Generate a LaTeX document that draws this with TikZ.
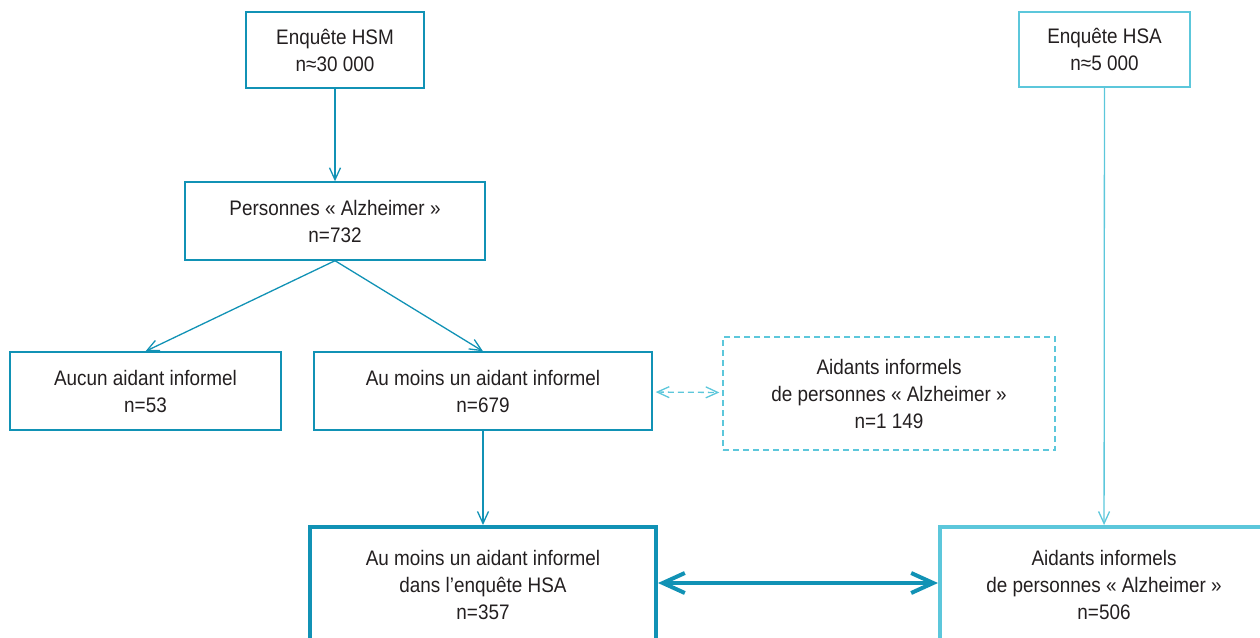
\documentclass[tikz,border=0pt]{standalone}
\usepackage{fontspec}
\setmainfont{Liberation Sans}[FakeStretch=0.9]
\usetikzlibrary{arrows.meta}

\definecolor{teal}{HTML}{1192B5}
\definecolor{lightcyan}{HTML}{5CC7DB}
\definecolor{ink}{HTML}{231F20}

\tikzset{
  box/.style={draw=teal, line width=1.4pt, align=center, text=ink,
    font=\fontsize{21}{27}\selectfont, inner sep=0pt},
  lightbox/.style={box, draw=lightcyan},
  dashbox/.style={lightbox, dash pattern=on 6pt off 4pt},
  bigbox/.style={box, line width=4pt},
  link/.style={teal, line width=1.3pt, -{Straight Barb[length=12pt,width=11pt]}},
  thicklink/.style={teal, line width=4pt,
    {Straight Barb[length=22pt,width=20pt]}-{Straight Barb[length=22pt,width=20pt]}},
}

\begin{document}
\begin{tikzpicture}[x=1pt, y=-1pt]
\useasboundingbox (0,0) rectangle (1260,637);

% Surveys
\node[box, minimum width=178pt, minimum height=76pt] (hsm) at (335,50)
  {Enquête HSM\\n≈30 000};
\node[lightbox, minimum width=171pt, minimum height=75pt] (hsa) at (1104.5,49.5)
  {Enquête HSA\\n≈5 000};

% HSM branch
\node[box, minimum width=300pt, minimum height=78pt] (alz) at (335,221)
  {Personnes « Alzheimer »\\n=732};
\node[box, minimum width=271pt, minimum height=78pt] (aucun) at (145.5,391)
  {Aucun aidant informel\\n=53};
\node[box, minimum width=338pt, minimum height=78pt] (aumoins) at (483,391)
  {Au moins un aidant informel\\n=679};
\node[dashbox, minimum width=332pt, minimum height=113pt] (aidants) at (889,393.5)
  {Aidants informels\\de personnes « Alzheimer »\\n=1 149};

% Bottom row (cut by the page edge)
\node[bigbox, minimum width=346pt, minimum height=116pt] (dansHSA) at (483,585)
  {Au moins un aidant informel\\dans l’enquête HSA\\n=357};
\node[bigbox, draw=lightcyan, minimum width=328pt, minimum height=116pt] (aidHSA) at (1104,585)
  {Aidants informels\\de personnes « Alzheimer »\\n=506};

% Connectors
\draw[link] (hsm) -- (alz);
\draw[link] (alz.south) -- (aucun.north);
\draw[link] (alz.south) -- (aumoins.north);
\draw[link] (aumoins) -- (dansHSA);
\draw[link, lightcyan] (hsa) -- (aidHSA);
\draw[link, lightcyan, dash pattern=on 6pt off 4pt,
  {Straight Barb[length=12pt,width=11pt]}-{Straight Barb[length=12pt,width=11pt]},
  shorten <=3pt, shorten >=3pt] (aumoins) -- (aidants);
\draw[thicklink] (dansHSA.east |- 0,583) -- (aidHSA.west |- 0,583);
\end{tikzpicture}
\end{document}
